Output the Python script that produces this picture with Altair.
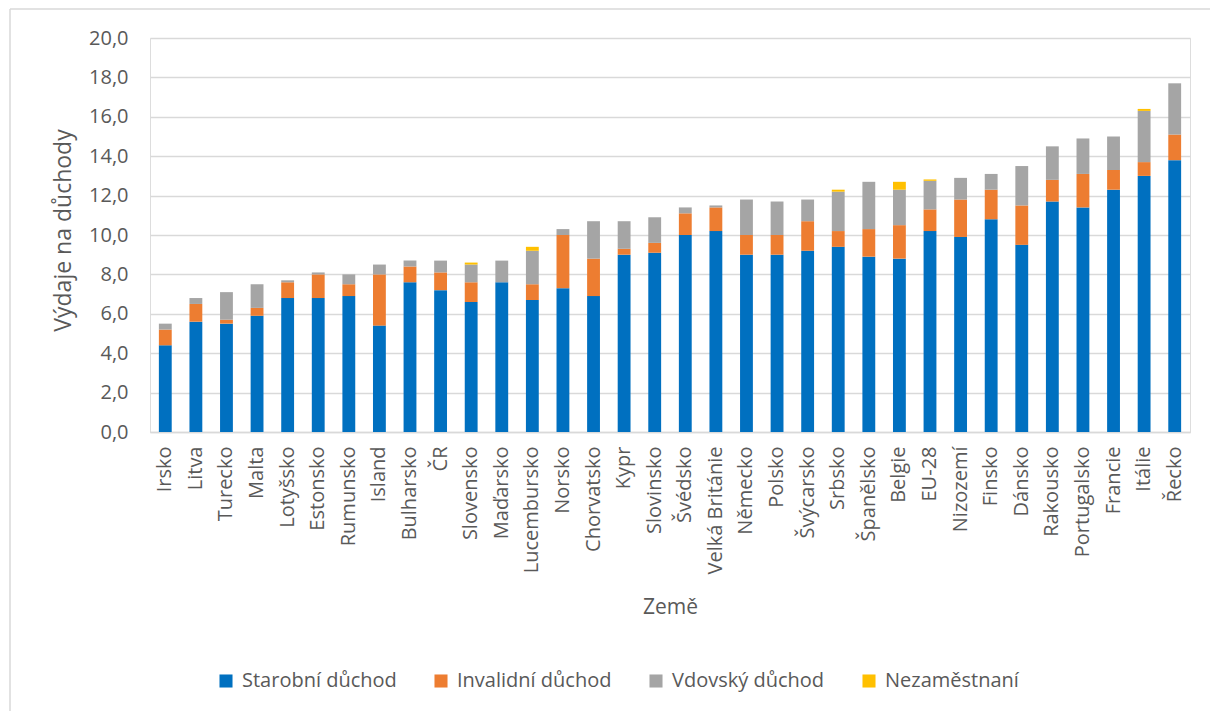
import altair as alt
import pandas as pd

countries = ["Irsko", "Litva", "Turecko", "Malta", "Lotyšsko", "Estonsko", "Rumunsko", "Island",
             "Bulharsko", "ČR", "Slovensko", "Maďarsko", "Lucembursko", "Norsko", "Chorvatsko",
             "Kypr", "Slovinsko", "Švédsko", "Velká Británie", "Německo", "Polsko", "Švýcarsko",
             "Srbsko", "Španělsko", "Belgie", "EU-28", "Nizozemí", "Finsko", "Dánsko", "Rakousko",
             "Portugalsko", "Francie", "Itálie", "Řecko"]

starobni = [4.4, 5.6, 5.5, 5.9, 6.8, 6.8, 6.9, 5.4, 7.6, 7.2, 6.6, 7.6, 6.7, 7.3, 6.9,
            9.0, 9.1, 10.0, 10.2, 9.0, 9.0, 9.2, 9.4, 8.9, 8.8, 10.2, 9.9, 10.8, 9.5, 11.7,
            11.4, 12.3, 13.0, 13.8]
invalidni = [0.8, 0.9, 0.2, 0.4, 0.8, 1.2, 0.6, 2.6, 0.8, 0.9, 1.0, 0.0, 0.8, 2.7, 1.9,
             0.3, 0.5, 1.1, 1.2, 1.0, 1.0, 1.5, 0.8, 1.4, 1.7, 1.1, 1.9, 1.5, 2.0, 1.1,
             1.7, 1.0, 0.7, 1.3]
vdovsky = [0.3, 0.3, 1.4, 1.2, 0.1, 0.1, 0.5, 0.5, 0.3, 0.6, 0.9, 1.1, 1.7, 0.3, 1.9,
           1.4, 1.3, 0.3, 0.1, 1.8, 1.7, 1.1, 2.0, 2.4, 1.8, 1.45, 1.1, 0.8, 2.0, 1.7,
           1.8, 1.7, 2.6, 2.6]
nezamestnani = [0, 0, 0, 0, 0, 0, 0, 0, 0, 0, 0.1, 0, 0.2, 0, 0,
                0, 0, 0, 0, 0, 0, 0, 0.1, 0, 0.4, 0.07, 0, 0, 0, 0,
                0, 0, 0.1, 0]

series = ["Starobní důchod", "Invalidní důchod", "Vdovský důchod", "Nezaměstnaní"]
colors = ["#0070C0", "#ED7D31", "#A5A5A5", "#FFC000"]

rows = []
for i, c in enumerate(countries):
    for k, vals in enumerate([starobni, invalidni, vdovsky, nezamestnani]):
        rows.append({"Země": c, "typ": series[k], "ord": k, "hodnota": vals[i]})
df = pd.DataFrame(rows)

FONT = "Open Sans"
TXT = "#595959"

bars = alt.Chart(df).mark_bar().encode(
    x=alt.X("Země:N", sort=countries, title="Země",
            scale=alt.Scale(paddingInner=0.58, paddingOuter=0.29),
            axis=alt.Axis(labelAngle=-90, labelFontSize=20, labelFont=FONT, labelColor=TXT,
                          labelPadding=14, ticks=False, domainColor="#D9D9D9", domainWidth=1.5,
                          titleFontSize=21, titleFont=FONT, titleColor=TXT, titleFontWeight="normal",
                          titleY=175, titleBaseline="middle", labelLimit=300)),
    y=alt.Y("hodnota:Q", stack="zero", title="Výdaje na důchody",
            scale=alt.Scale(domain=[0, 20], nice=False),
            axis=alt.Axis(values=list(range(0, 21, 2)), labelExpr="replace(format(datum.value, '.1f'), '.', ',')",
                          labelFontSize=20, labelFont=FONT, labelColor=TXT, labelPadding=22,
                          ticks=False, domain=False, gridColor="#D9D9D9", gridWidth=1.5,
                          titleFontSize=23, titleFont=FONT, titleColor=TXT, titleFontWeight="normal",
                          titleX=-87, titleY=192, titleAngle=-90, titleBaseline="middle")),
    color=alt.Color("typ:N", sort=series,
                    scale=alt.Scale(domain=series, range=colors),
                    legend=alt.Legend(title=None, orient="none", direction="horizontal",
                                      legendX=66, legendY=633, symbolType="square", symbolSize=170,
                                      symbolStrokeWidth=0, labelFontSize=20, labelFont=FONT,
                                      labelColor=TXT, columnPadding=34, labelOffset=6,
                                      labelLimit=300)),
    order=alt.Order("ord:Q", sort="ascending"),
)

border_top = alt.Chart(pd.DataFrame({"a": [0]})).mark_rule(color="#D9D9D9", strokeWidth=1.5).encode(
    x=alt.value(-140), x2=alt.value(1060), y=alt.value(-29))
border_left = alt.Chart(pd.DataFrame({"a": [0]})).mark_rule(color="#D9D9D9", strokeWidth=1.5).encode(
    x=alt.value(-140), y=alt.value(-29), y2=alt.value(673))

chart = alt.layer(bars, border_top, border_left).properties(
    width=1040, height=394,
    autosize=alt.AutoSizeParams(type="none"),
    padding={"left": 150, "top": 38, "right": 20, "bottom": 279},
).configure_view(stroke=None).configure(background="white")

chart.save("out.html", embed_options={"renderer": "svg", "actions": False})
